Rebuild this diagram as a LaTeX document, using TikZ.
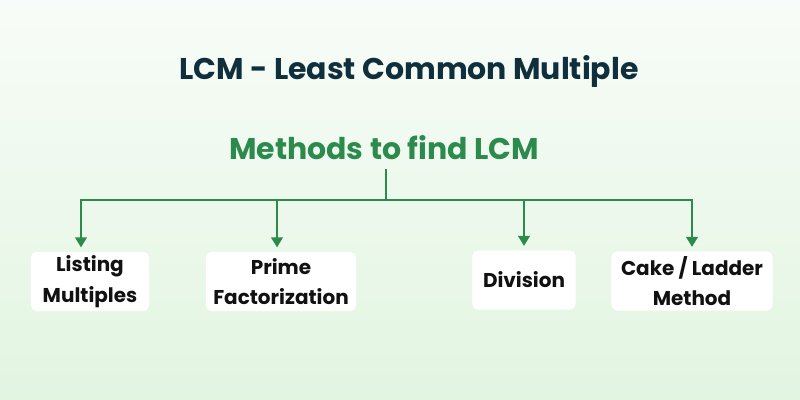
\documentclass[tikz,border=0pt]{standalone}
\usepackage{fontspec}
\setmainfont{Poppins}
\usepackage{xcolor}
\definecolor{cTitle}{HTML}{0F2F3C}
\definecolor{cGreen}{HTML}{2C8A4C}
\definecolor{cText}{HTML}{111111}
\definecolor{cBgTop}{HTML}{F8FCF8}
\definecolor{cBgBot}{HTML}{E2F5E1}
\usepackage{tikz}
\usetikzlibrary{positioning,arrows.meta}
\tikzset{
  node-box/.style={fill=white,rounded corners=4pt,inner sep=0pt,
    minimum height=14.8mm,align=center,text=cText,
    font=\fontsize{14.2}{21.8}\selectfont\bfseries},
  node-title/.style={text=cTitle,font=\fontsize{21.3}{24}\selectfont\bfseries},
  node-root/.style={text=cGreen,font=\fontsize{21.3}{26}\selectfont\bfseries},
  arrow/.style={-{Triangle[length=2.5mm,width=2.9mm]},line width=1.4pt,draw=cGreen},
  bus/.style={line width=1.4pt,draw=cGreen},
}

\begin{document}
\begin{tikzpicture}[x=0.025cm,y=-0.025cm]
  \shade[top color=cBgTop,bottom color=cBgBot] (0,0) rectangle (800,400);
  \useasboundingbox (0,0) rectangle (800,400);
  \node[node-title] (title) at (409,71) {LCM - Least Common Multiple};
  \node[node-root] (root) at (384,148) {Methods to find LCM};
  \coordinate (fork) at (386,200);
  % methods
  \node[node-box,minimum width=29.5mm] (list) at (90,281.5) {Listing\\Multiples};
  \node[node-box,minimum width=37.5mm] (prime) at (281,281.5) {Prime\\Factorization};
  \node[node-box,minimum width=25.8mm] (div) at (524,280) {Division};
  \node[node-box,minimum width=40.3mm] (cake) at (692,281) {Cake / Ladder\\Method};
  \draw[bus] ([yshift=-3pt]root.south -| fork) -- (fork);
  \draw[arrow,shorten >=3pt] (fork) -| ([xshift=-2.25mm]list.north);
  \draw[arrow,shorten >=3pt] (fork) -| ([xshift=-1mm]prime.north);
  \foreach \m in {div,cake}
    \draw[arrow,shorten >=3pt] (fork) -| (\m.north);
\end{tikzpicture}
\end{document}
